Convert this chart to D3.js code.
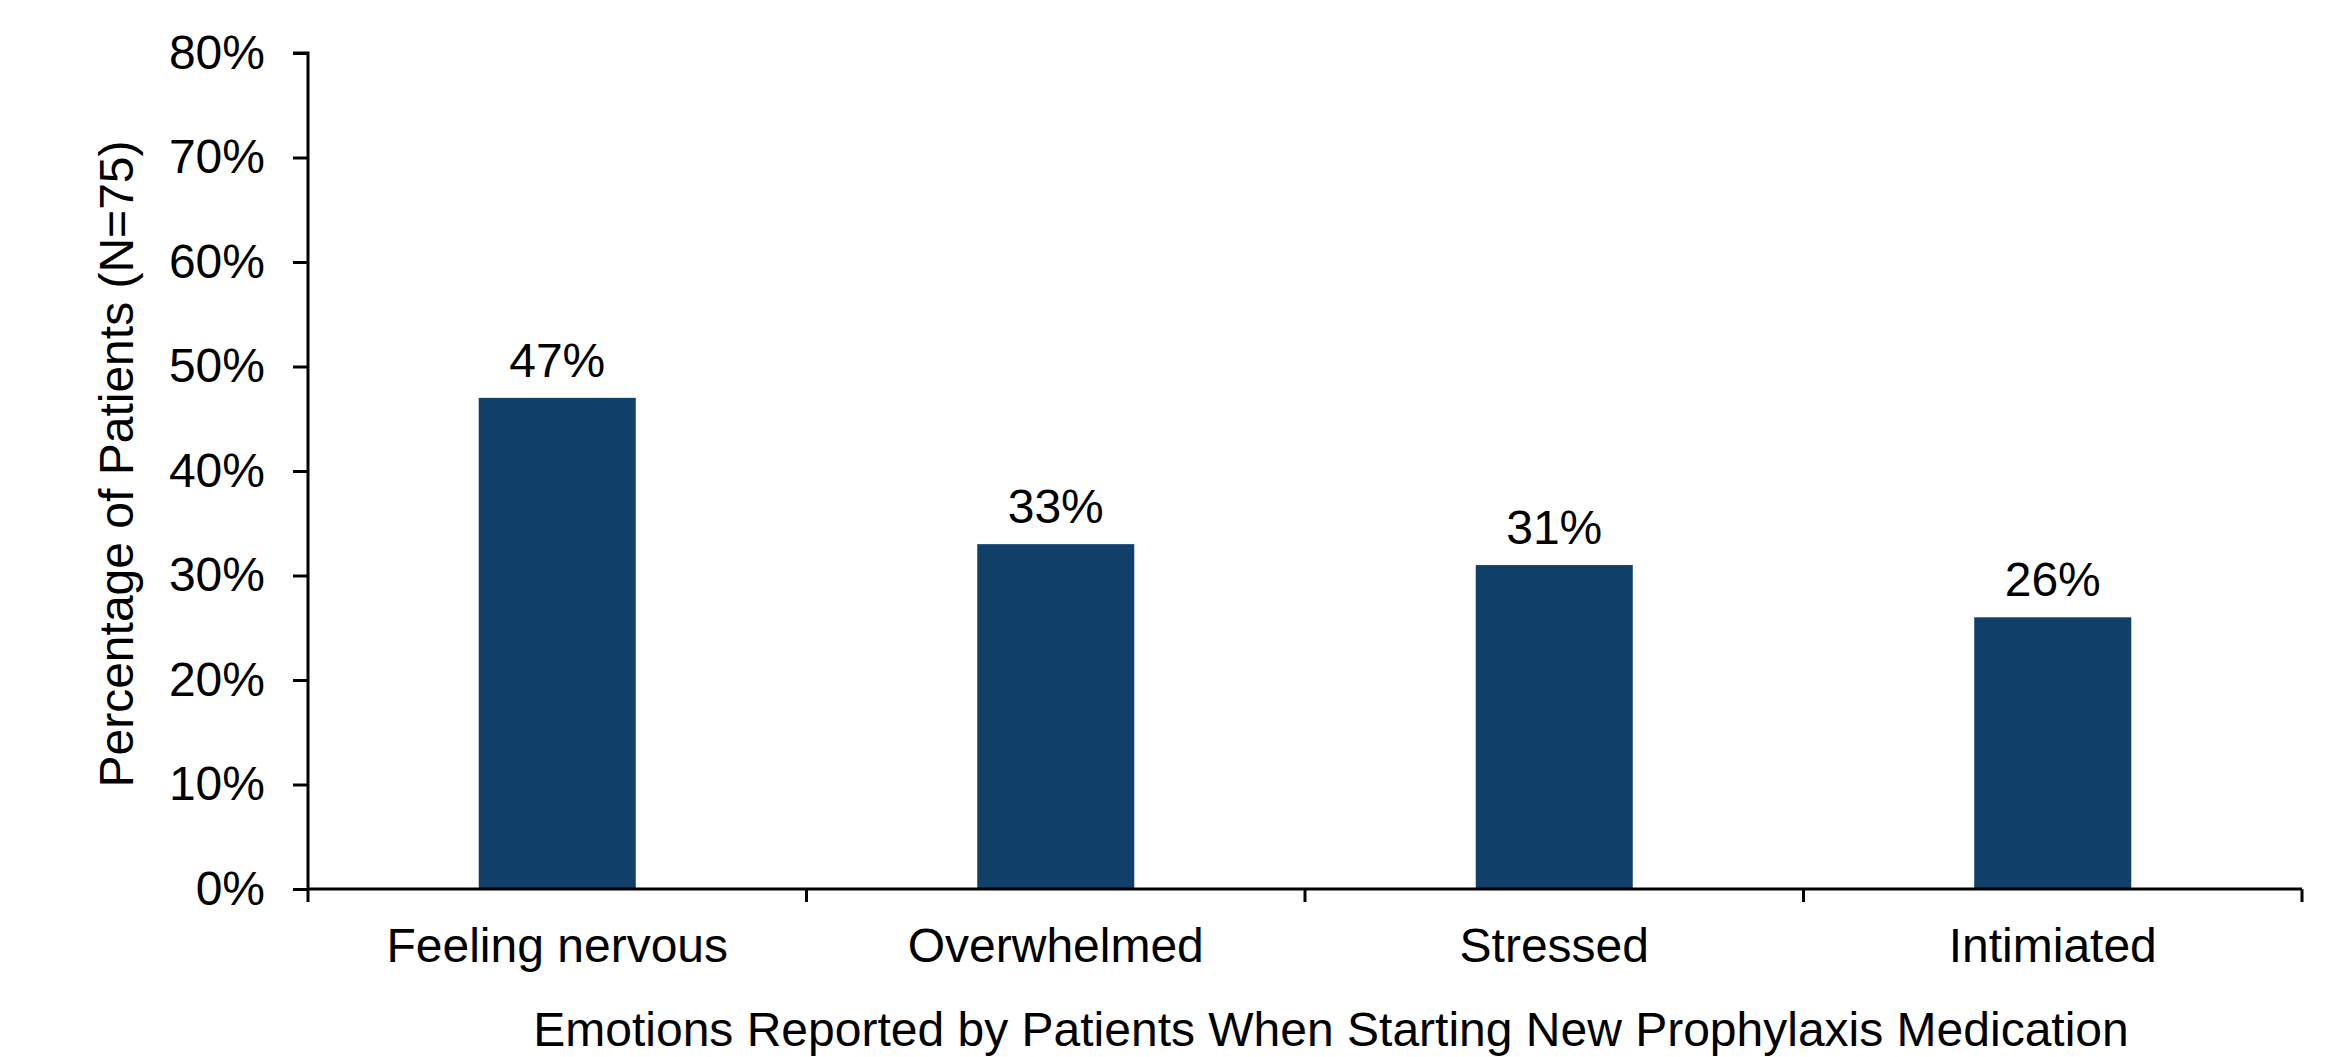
<!DOCTYPE html>
<html>
<head>
<meta charset="utf-8">
<script src="https://cdn.jsdelivr.net/npm/d3@7/dist/d3.min.js"></script>
<style>
  html, body { margin: 0; padding: 0; background: #fff; }
  svg { display: block; }
  text { font-family: "Liberation Sans", Arial, sans-serif; fill: #000; }
</style>
</head>
<body>
<svg id="chart" width="2328" height="1057"></svg>
<script>
// Emotions reported when starting a new prophylaxis medication
const categories = ["Feeling nervous", "Overwhelmed", "Stressed", "Intimiated"];
const percentages = [47, 33, 31, 26];
const yTicks = [0, 10, 20, 30, 40, 50, 60, 70, 80];
const yTitle = "Percentage of Patients (N=75)";
const xTitle = "Emotions Reported by Patients When Starting New Prophylaxis Medication";

const W = 2328, H = 1057;
const margin = { left: 308, right: 26, top: 53, bottom: 168 };
const fontSize = 48;
const barColor = "#10406a";

const svg = d3.select("#chart");
const x = d3.scaleBand().domain(categories).range([margin.left, W - margin.right]).padding(0);
const y = d3.scaleLinear().domain([0, 80]).range([H - margin.bottom, margin.top]);
const barW = x.bandwidth() * 0.315;

// bars
svg.append("g").selectAll("rect")
  .data(categories)
  .join("rect")
  .attr("x", (d) => x(d) + (x.bandwidth() - barW) / 2)
  .attr("width", barW)
  .attr("y", (d, i) => y(percentages[i]))
  .attr("height", (d, i) => y(0) - y(percentages[i]))
  .attr("fill", barColor);

// value labels
svg.append("g").selectAll("text")
  .data(categories)
  .join("text")
  .attr("x", (d) => x(d) + x.bandwidth() / 2)
  .attr("y", (d, i) => y(percentages[i]) - 21)
  .attr("text-anchor", "middle")
  .style("font-size", fontSize + "px")
  .text((d, i) => percentages[i] + "%");

// y axis
const yAxis = d3.axisLeft(y).tickValues(yTicks).tickFormat((d) => d + "%").tickSize(15).tickPadding(28);
const gy = svg.append("g").attr("transform", `translate(${margin.left},0)`).call(yAxis);
gy.select(".domain").attr("stroke", "#000").attr("stroke-width", 3).attr("d", `M-15,${y(80)}H0V${y(0)}`);
gy.selectAll(".tick line").attr("stroke", "#000").attr("stroke-width", 3);
gy.selectAll(".tick text").style("font-size", fontSize + "px").style("font-family", "'Liberation Sans', Arial, sans-serif").attr("fill", "#000");

// x axis with ticks at category boundaries
const xAxis = d3.axisBottom(x).tickSize(0).tickPadding(39);
const gx = svg.append("g").attr("transform", `translate(0,${y(0)})`).call(xAxis);
gx.select(".domain").attr("stroke", "#000").attr("stroke-width", 3)
  .attr("d", `M${margin.left},0H${W - margin.right}`);
gx.selectAll(".tick text").style("font-size", fontSize + "px").style("font-family", "'Liberation Sans', Arial, sans-serif").attr("fill", "#000").attr("dy", "0.71em");
const bounds = categories.map((d) => x(d)).concat([x(categories[categories.length - 1]) + x.bandwidth()]);
gx.append("g").selectAll("line")
  .data(bounds)
  .join("line")
  .attr("x1", (d) => d).attr("x2", (d) => d)
  .attr("y1", 0).attr("y2", 13)
  .attr("stroke", "#000").attr("stroke-width", 3);

// axis titles
svg.append("text")
  .attr("x", 1331)
  .attr("y", 1046)
  .attr("text-anchor", "middle")
  .style("font-size", fontSize + "px")
  .text(xTitle);

svg.append("text")
  .attr("transform", `translate(133,${(y(0) + y(80)) / 2 - 7}) rotate(-90)`)
  .attr("text-anchor", "middle")
  .style("font-size", fontSize + "px")
  .text(yTitle);
</script>
</body>
</html>
